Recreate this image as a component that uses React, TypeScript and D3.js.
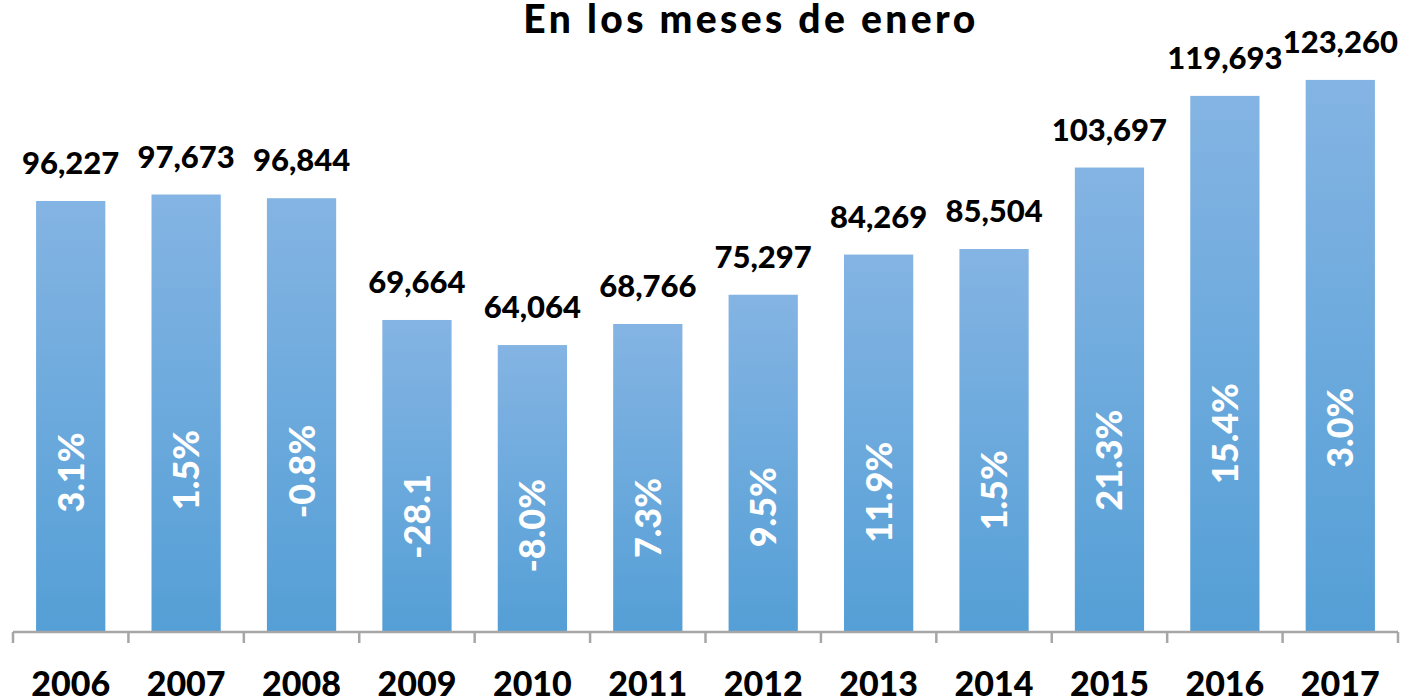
import React, { useEffect, useRef } from "react";
import * as d3 from "d3";

const years = ["2006", "2007", "2008", "2009", "2010", "2011", "2012", "2013", "2014", "2015", "2016", "2017"];
const values = [96227, 97673, 96844, 69664, 64064, 68766, 75297, 84269, 85504, 103697, 119693, 123260];
const changes = ["3.1%", "1.5%", "-0.8%", "-28.1", "-8.0%", "7.3%", "9.5%", "11.9%", "1.5%", "21.3%", "15.4%", "3.0%"];
const title = "En los meses de enero";

const App = () => {
  const svgRef = useRef<SVGSVGElement | null>(null);

  useEffect(() => {
    const svg = d3.select(svgRef.current);
    svg.selectAll("*").remove();

    const w = 1421;
    const h = 700;
    const left = 13;
    const right = 1398;
    const base = 632;
    const font = "Lato, 'Open Sans', sans-serif";

    svg.attr("width", w).attr("height", h);

    const x = d3
      .scaleBand<string>()
      .domain(years)
      .range([left, right])
      .paddingInner(0.4)
      .paddingOuter(0.2);

    const y = d3.scaleLinear().domain([0, 141100]).range([base, 0]);

    // gradient for bars
    const grad = svg
      .append("defs")
      .append("linearGradient")
      .attr("id", "barGrad")
      .attr("x1", 0)
      .attr("y1", 0)
      .attr("x2", 0)
      .attr("y2", 1);
    grad.append("stop").attr("offset", "0%").attr("stop-color", "#84B4E3");
    grad.append("stop").attr("offset", "100%").attr("stop-color", "#549FD6");

    // title
    svg
      .append("text")
      .attr("x", 751)
      .attr("y", 33)
      .attr("text-anchor", "middle")
      .style("font-family", font)
      .style("font-weight", 900)
      .style("font-size", "39px")
      .style("letter-spacing", "3.4px")
      .text(title);

    // bars
    svg
      .selectAll(".bar")
      .data(values)
      .join("rect")
      .attr("class", "bar")
      .attr("x", (d, i) => x(years[i]) as number)
      .attr("y", (d) => y(d))
      .attr("width", x.bandwidth())
      .attr("height", (d) => base - y(d))
      .attr("fill", "url(#barGrad)");

    // value labels
    svg
      .selectAll(".val")
      .data(values)
      .join("text")
      .attr("class", "val")
      .attr("x", (d, i) => (x(years[i]) as number) + x.bandwidth() / 2)
      .attr("y", (d) => y(d) - 27)
      .attr("text-anchor", "middle")
      .style("font-family", font)
      .style("font-weight", 900)
      .style("font-size", "31px")
      .style("fill", "#000")
      .text((d) => d3.format(",")(d));

    // change labels inside bars
    svg
      .selectAll(".chg")
      .data(changes)
      .join("text")
      .attr("class", "chg")
      .attr("transform", (d, i) => {
        const cx = (x(years[i]) as number) + x.bandwidth() / 2;
        const cy = y(values[i] * 0.37);
        return `translate(${cx},${cy}) rotate(-90)`;
      })
      .attr("text-anchor", "middle")
      .attr("dy", "0.36em")
      .style("font-family", font)
      .style("font-weight", 900)
      .style("font-size", "36px")
      .style("fill", "#fff")
      .text((d) => d);

    // axis line and ticks at band boundaries
    const axis = svg.append("g").attr("stroke", "#A6A6A6").attr("stroke-width", 2.5);
    axis.append("line").attr("x1", left).attr("x2", right).attr("y1", base).attr("y2", base);
    const bounds = years.map((d) => (x(d) as number) - x.step() * 0.2).concat([right]);
    axis
      .selectAll(".tick")
      .data(bounds)
      .join("line")
      .attr("x1", (d) => d)
      .attr("x2", (d) => d)
      .attr("y1", base)
      .attr("y2", base + 11);

    // year labels
    svg
      .selectAll(".yr")
      .data(years)
      .join("text")
      .attr("class", "yr")
      .attr("x", (d) => (x(d) as number) + x.bandwidth() / 2)
      .attr("y", 696)
      .attr("text-anchor", "middle")
      .style("font-family", font)
      .style("font-weight", 900)
      .style("font-size", "34px")
      .text((d) => d);
  }, []);

  return (
    <div>
      <svg ref={svgRef} style={{ position: "absolute", left: 0, top: 0, display: "block" }}></svg>
    </div>
  );
};

export default App;
